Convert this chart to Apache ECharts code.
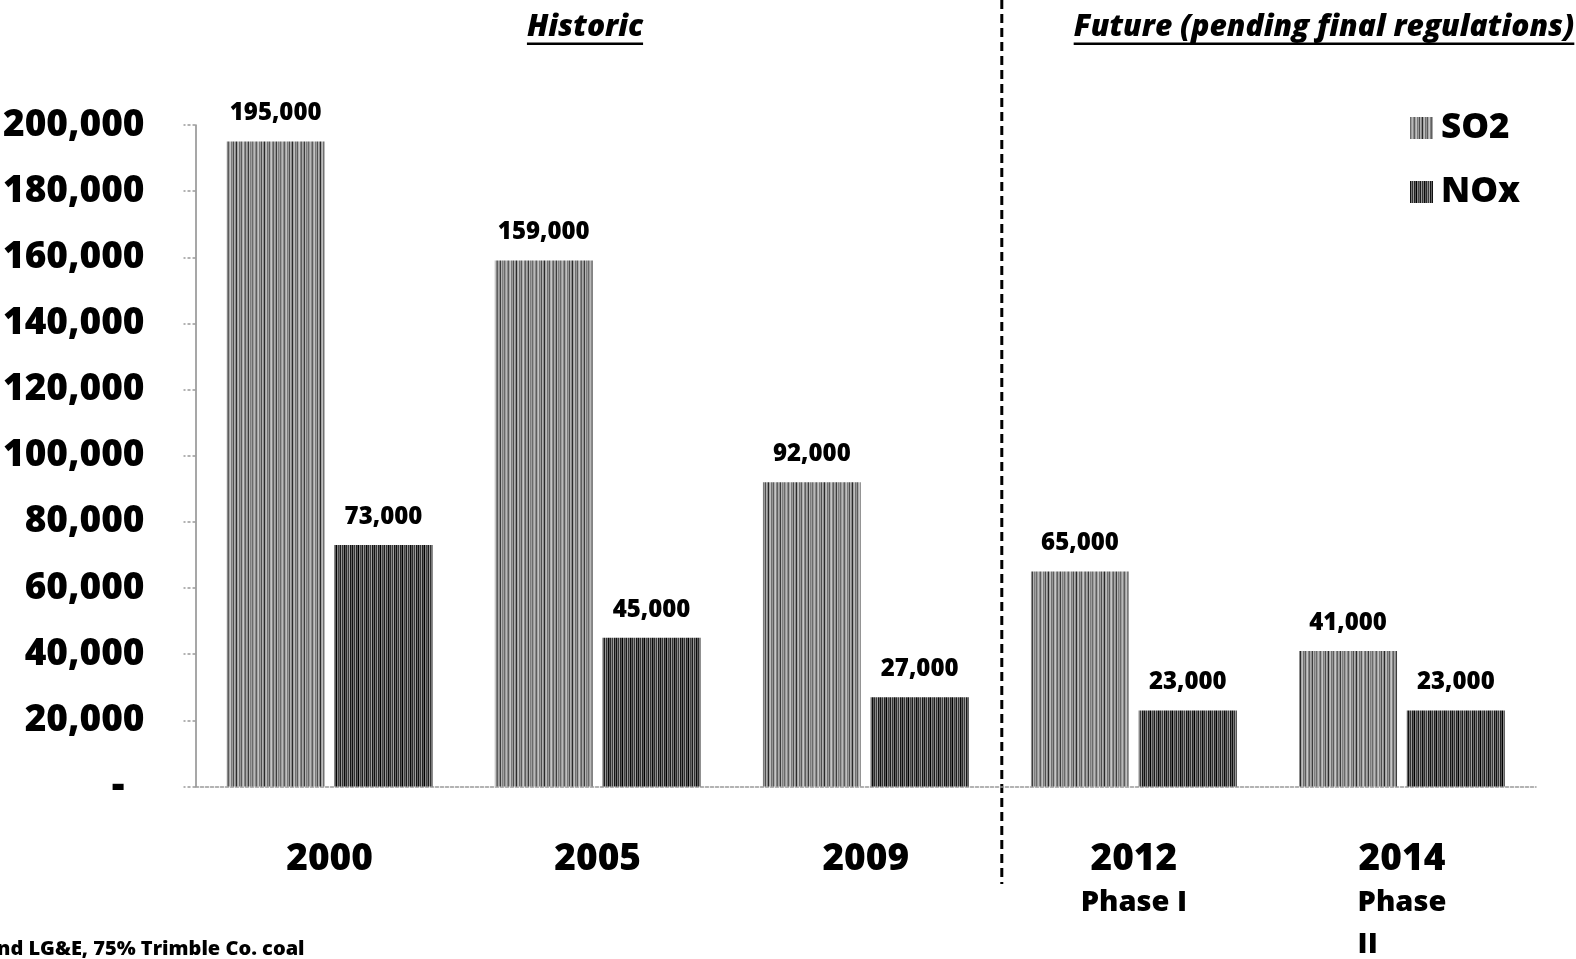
<!DOCTYPE html>
<html>
<head>
<meta charset="utf-8">
<title>SO2 and NOx emissions</title>
<script src="https://cdn.jsdelivr.net/npm/echarts@6/dist/echarts.min.js"></script>
<style>
  html, body { margin: 0; padding: 0; background: #fff; }
  #chart { width: 1576px; height: 959px; }
</style>
</head>
<body>
<div id="chart"></div>
<script>
// Emission values (tons) per year
var categories = ['2000', '2005', '2009', '2012', '2014'];
var subLabels = ['', '', '', 'Phase I', 'Phase\nII'];
var so2Values = [195000, 159000, 92000, 65000, 41000];
var noxValues = [73000, 45000, 27000, 23000, 23000];
var seriesNames = ['SO2', 'NOx'];
var sectionTitles = ['Historic', 'Future (pending final regulations)'];
var footnote = 'nd LG&E, 75% Trimble Co. coal';

var FONT = '"Open Sans", "Noto Sans", "Liberation Sans", sans-serif';
var W = 800;

// Vertical-stripe fill used for the bars
function stripePattern(cols) {
  var c = document.createElement('canvas');
  c.width = cols.length;
  c.height = 4;
  var ctx = c.getContext('2d');
  for (var i = 0; i < cols.length; i++) {
    ctx.fillStyle = cols[i];
    ctx.fillRect(i, 0, 1, 4);
  }
  return { image: c, repeat: 'repeat' };
}

var so2Fill = stripePattern([
  '#6a6a6a', '#9c9c9c', '#b9b9b9', '#8a8a8a', '#5c5c5c', '#a6a6a6', '#c2c2c2',
  '#7a7a7a', '#9a9a9a', '#4e4e4e', '#b0b0b0', '#8c8c8c', '#2a2a2a', '#a3a3a3',
  '#bdbdbd', '#707070', '#959595', '#5a5a5a', '#acacac', '#c6c6c6', '#838383',
  '#606060', '#a9a9a9', '#909090', '#3c3c3c', '#b4b4b4', '#7e7e7e', '#9e9e9e'
]);
var noxFill = stripePattern([
  '#111111', '#777777', '#333333', '#9a9a9a', '#222222', '#5a5a5a', '#000000',
  '#8a8a8a', '#444444', '#6a6a6a', '#1a1a1a', '#999999', '#333333', '#7a7a7a',
  '#0a0a0a', '#5e5e5e', '#2a2a2a', '#888888', '#3a3a3a', '#a0a0a0', '#151515',
  '#666666'
]);

function fmt(v) { return v.toLocaleString('en-US'); }

var chart = echarts.init(document.getElementById('chart'));

var option = {
  backgroundColor: '#ffffff',
  animation: false,
  textStyle: { fontFamily: FONT },
  grid: { left: 194, right: 40, top: 125, bottom: 171, containLabel: false },
  legend: {
    orient: 'vertical',
    left: 1405,
    top: 103,
    itemWidth: 23,
    itemHeight: 22,
    itemGap: 24,
    icon: 'rect',
    selectedMode: false,
    data: seriesNames,
    textStyle: { fontFamily: FONT, fontWeight: W, fontSize: 35, color: '#000', lineHeight: 40, padding: [0, 0, 0, 3] }
  },
  xAxis: {
    type: 'category',
    data: categories,
    axisLine: { show: true, lineStyle: { color: '#999', width: 1.5, type: [3, 2] } },
    axisTick: { show: false },
    axisLabel: {
      margin: 51,
      interval: 0,
      formatter: function (val, idx) {
        var s = '{y|' + val + '}';
        var sub = subLabels[idx];
        if (sub) {
          var lines = sub.split('\n');
          var sty = lines.length > 1 ? 'pl' : 'pc';
          lines.forEach(function (l) { s += '\n{' + sty + '|' + l + '}'; });
        }
        return s;
      },
      rich: {
        y: { fontFamily: FONT, fontWeight: W, fontSize: 37, color: '#000', lineHeight: 44, align: 'center' },
        pc: { fontFamily: FONT, fontWeight: W, fontSize: 29, color: '#000', lineHeight: 42, align: 'center' },
        pl: { fontFamily: FONT, fontWeight: W, fontSize: 29, color: '#000', lineHeight: 42, align: 'left' }
      }
    }
  },
  yAxis: {
    type: 'value',
    min: 0,
    max: 200000,
    interval: 20000,
    splitLine: { show: false },
    axisLine: { show: true, lineStyle: { color: '#8a8a8a', width: 1.5 } },
    axisTick: { show: true, length: 12, lineStyle: { color: '#999', width: 1.5, type: [3, 2] } },
    axisLabel: {
      margin: 51,
      formatter: function (v) { return v === 0 ? '{d|-}' : fmt(v); },
      fontFamily: FONT,
      fontWeight: W,
      fontSize: 37,
      color: '#000',
      rich: {
        d: { fontFamily: FONT, fontWeight: W, fontSize: 40, color: '#000', padding: [0, 20, 0, 0] }
      }
    }
  },
  series: [
    {
      name: seriesNames[0],
      type: 'bar',
      data: so2Values,
      barWidth: 98,
      barGap: '10%',
      itemStyle: { color: so2Fill },
      label: {
        show: true, position: 'top', distance: 16,
        formatter: function (p) { return fmt(p.value); },
        fontFamily: FONT, fontWeight: W, fontSize: 24, color: '#000'
      }
    },
    {
      name: seriesNames[1],
      type: 'bar',
      data: noxValues,
      barWidth: 98,
      barGap: '10%',
      itemStyle: { color: noxFill },
      label: {
        show: true, position: 'top', distance: 16,
        formatter: function (p) { return fmt(p.value); },
        fontFamily: FONT, fontWeight: W, fontSize: 24, color: '#000'
      }
    }
  ]
};

chart.setOption(option);

// Section headings (underlined), divider and footnote
var measure = document.createElement('canvas').getContext('2d');
function textWidth(str, font) { measure.font = font; return measure.measureText(str).width; }

var titleFont = 'italic ' + W + ' 30px ' + FONT;
function heading(str, cx) {
  var w = textWidth(str, titleFont);
  return [
    {
      type: 'text', left: cx - w / 2, top: 12,
      style: { text: str, font: titleFont, fill: '#000' }
    },
    {
      type: 'rect', shape: { x: cx - w / 2, y: 42.5, width: w, height: 2.5 },
      style: { fill: '#000' }
    }
  ];
}

var x2009 = chart.convertToPixel({ xAxisIndex: 0 }, categories[2]);
var x2012 = chart.convertToPixel({ xAxisIndex: 0 }, categories[3]);
var divX = (x2009 + x2012) / 2 + 2;

var elements = [].concat(
  heading(sectionTitles[0], 585),
  heading(sectionTitles[1], 1324),
  [
    {
      type: 'line',
      shape: { x1: divX, y1: 0, x2: divX, y2: 884 },
      style: { stroke: '#000', lineWidth: 3, lineDash: [9, 5] }
    },
    {
      type: 'text', left: -3, top: 939,
      style: { text: footnote, font: W + ' 20px ' + FONT, fill: '#000' }
    }
  ]
);

chart.setOption({ graphic: { elements: elements } });
</script>
</body>
</html>
